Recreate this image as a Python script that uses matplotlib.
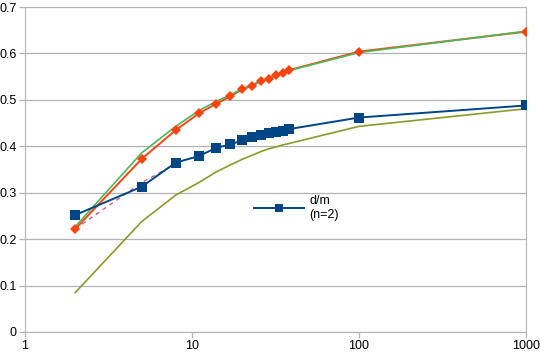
import matplotlib
matplotlib.use('Agg')
import matplotlib.pyplot as plt

plt.rcParams['font.family'] = ['Liberation Sans', 'DejaVu Sans']

# sample sizes (x axis, log scale)
n_vals = [2, 5, 8, 11, 14, 17, 20, 23, 26, 29, 32, 35, 38, 100, 1000]

# d/m (n=2) - blue squares
dm = [0.252, 0.313, 0.365, 0.379, 0.397, 0.404, 0.413, 0.420, 0.425, 0.428,
      0.431, 0.434, 0.437, 0.462, 0.488]

# orange diamonds
orange = [0.222, 0.373, 0.435, 0.471, 0.492, 0.508, 0.523, 0.531, 0.541, 0.546,
          0.553, 0.559, 0.564, 0.604, 0.647]

# light green curve above the orange one
green = [0.227, 0.386, 0.443, 0.477, 0.497, 0.511, 0.524, 0.533, 0.541, 0.547,
         0.553, 0.558, 0.563, 0.602, 0.648]

# olive lower curve
olive = [0.085, 0.238, 0.295, 0.322, 0.345, 0.360, 0.372, 0.381, 0.389, 0.395,
         0.399, 0.403, 0.406, 0.443, 0.481]

# short dashed series
dash_n = [2, 5, 8]
dash_y = [0.222, 0.322, 0.362]

fig = plt.figure(figsize=(5.4, 3.53), dpi=100)
ax = fig.add_axes([0.0463, 0.0595, 0.9277, 0.9205])

ax.plot(n_vals, olive, color='#8a9a2a', linewidth=1.2, label='_nolegend_', zorder=2)
ax.plot(dash_n, dash_y, color='#d05a8a', linewidth=1.0, linestyle=(0, (3, 3)),
        label='_nolegend_', zorder=2)
ax.plot(n_vals, orange, color='#ff420e', linewidth=1.4, label='_nolegend_', zorder=3)
ax.plot(n_vals, green, color='#4cb85c', linewidth=1.2, label='_nolegend_', zorder=3.3)
ax.plot(n_vals, orange, color='#ff420e', linestyle='none', marker='D', markersize=5.5,
        markeredgewidth=0, label='_nolegend_', zorder=3.6)
ax.plot(n_vals, dm, color='#004586', linewidth=1.4, marker='s', markersize=6.5,
        markeredgewidth=0, label='d/m\n(n=2)', zorder=4)

ax.set_xscale('log')
ax.set_xlim(1, 1000)
ax.set_ylim(0, 0.7)
ax.set_xticks([1, 10, 100, 1000])
ax.set_xticklabels(['1', '10', '100', '1000'])
ax.minorticks_off()
ax.set_yticks([0, 0.1, 0.2, 0.3, 0.4, 0.5, 0.6, 0.7])
ax.set_yticklabels(['0', '0.1', '0.2', '0.3', '0.4', '0.5', '0.6', '0.7'])

ax.grid(axis='y', color='#b3b3b3', linewidth=0.9)
ax.set_axisbelow(True)
for side in ['left', 'bottom', 'right']:
    ax.spines[side].set_color('#b3b3b3')
ax.spines['top'].set_visible(False)
ax.tick_params(axis='both', colors='#b3b3b3', labelcolor='black', labelsize=9,
               length=4, width=0.9)
ax.tick_params(axis='x', pad=2)
ax.tick_params(axis='y', pad=2)

ax.legend(loc='upper left', bbox_to_anchor=(0.445, 0.44), frameon=False,
          fontsize=9, handlelength=4.0, handletextpad=0.4, borderpad=0,
          labelspacing=0, markerscale=0.8)

fig.savefig('out.png', dpi=100)
